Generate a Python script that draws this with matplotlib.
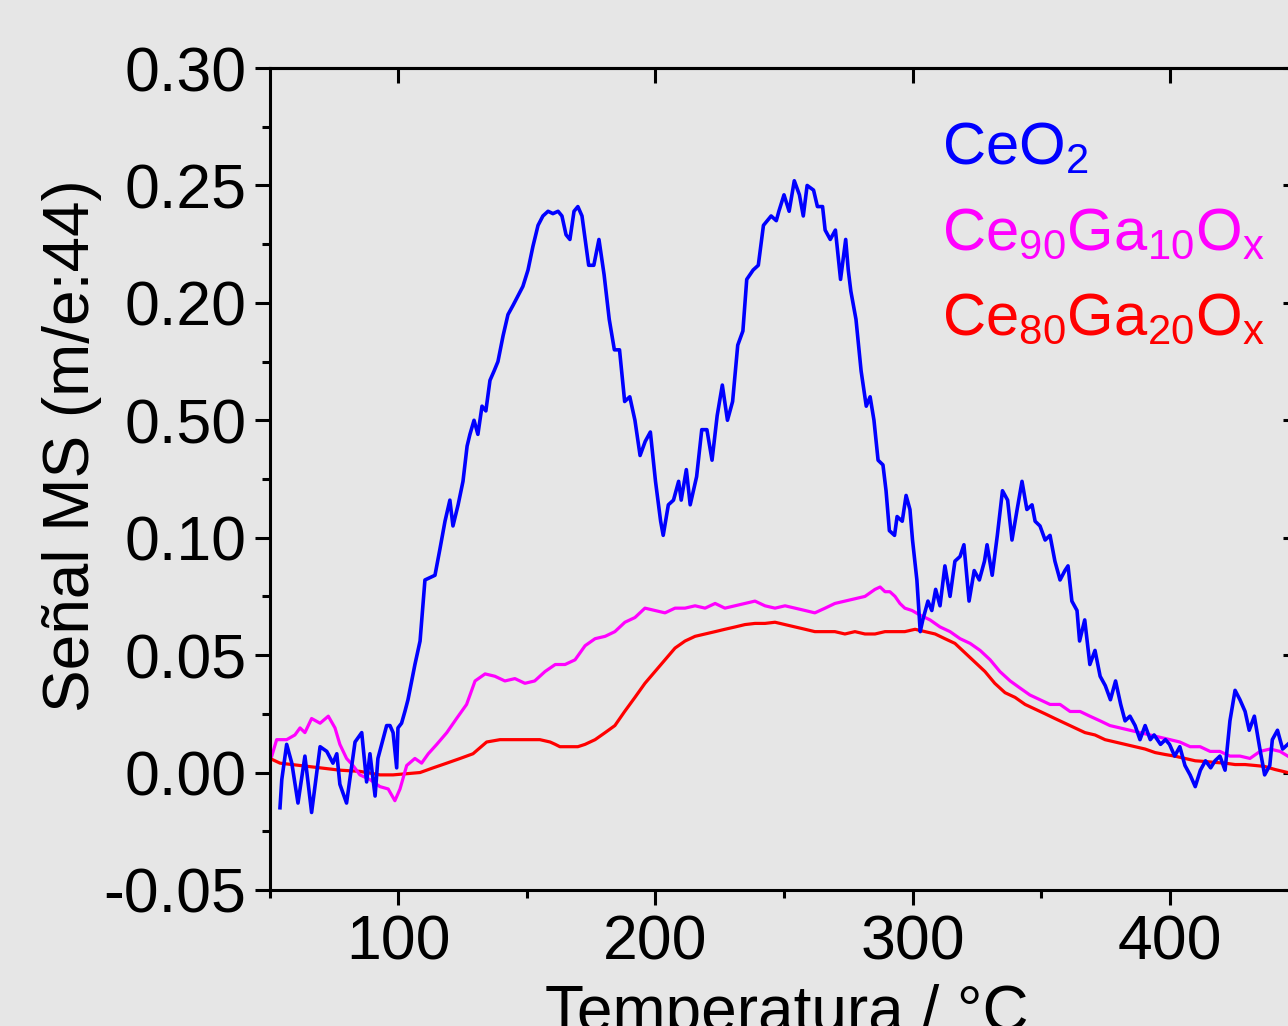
import matplotlib
matplotlib.use("Agg")
import matplotlib.pyplot as plt
from matplotlib.ticker import MultipleLocator, FixedLocator

plt.rcParams['font.family'] = ['Liberation Sans', 'DejaVu Sans']
plt.rcParams['mathtext.fontset'] = 'custom'
plt.rcParams['mathtext.rm'] = 'Liberation Sans'
plt.rcParams['mathtext.it'] = 'Liberation Sans:italic'

# CeO2 signal (m/e 44) vs temperature
ceo2_T = [53.9, 54.6, 56.5, 58.5, 60.9, 63.6, 66.2, 69.5, 72.1, 74.5, 76.0, 77.2, 79.8,
          83.1, 85.7, 87.6, 88.9, 90.9, 92.0, 95.4, 96.7, 97.9, 99.3, 99.8, 101.2, 102.5,
          103.7, 106.4, 108.4, 110.3, 112.3, 114.2, 116.1, 118.1, 120.0, 121.2, 123.2,
          125.1, 126.7, 127.8, 129.4, 130.9, 132.5, 134.0, 135.6, 137.2, 138.7, 140.7,
          142.6, 144.6, 146.5, 148.4, 150.4, 152.3, 154.3, 156.2, 158.2, 160.1, 162.1,
          163.6, 165.2, 166.7, 168.3, 169.8, 171.4, 174, 176, 178, 180, 182, 184, 186,
          188, 190, 192, 194, 196, 198, 200, 202, 203, 205, 207, 209, 210, 212, 213.5,
          216, 218, 220, 222, 224, 226, 228, 230, 232, 234, 235.5, 238, 240, 242, 245,
          247, 248, 250, 252, 254, 256, 257.5, 259, 261.5, 263, 265, 266, 268, 270, 272,
          274, 275, 276, 278, 280, 282, 283.5, 285, 286.6, 288.5, 289.7, 291, 293, 294,
          296, 297.5, 299, 300, 301.7, 303, 304, 306, 307.5, 309, 310.7, 312.6, 314.6,
          316.5, 318.5, 320, 322, 324, 326, 328, 329, 331, 333, 335, 337, 338.7, 340.7,
          342.6, 344.5, 346.5, 347.7, 349.6, 351.6, 353.5, 355.4, 357.4, 359.3, 360.5,
          362, 364, 365, 367, 369, 371, 373, 375, 377, 379, 381, 382.7, 384.6, 386.6,
          388.5, 390.5, 392.5, 394, 396.5, 398.4, 400, 402, 404, 406, 408, 410, 412, 414,
          416, 417.7, 419.6, 421.6, 423.5, 425.5, 427.4, 429.4, 431, 433, 435, 437, 439,
          440, 442, 444, 446]
ceo2_S = [-0.015, -0.003, 0.012, 0.004, -0.013, 0.007, -0.017, 0.011, 0.009, 0.004, 0.008,
          -0.005, -0.013, 0.013, 0.017, -0.004, 0.008, -0.010, 0.006, 0.020, 0.020, 0.017,
          0.002, 0.019, 0.021, 0.026, 0.031, 0.046, 0.056, 0.082, 0.083, 0.084, 0.095,
          0.107, 0.116, 0.105, 0.114, 0.124, 0.139, 0.144, 0.150, 0.144, 0.156, 0.154,
          0.167, 0.171, 0.175, 0.186, 0.195, 0.199, 0.203, 0.207, 0.214, 0.224, 0.233,
          0.237, 0.239, 0.238, 0.239, 0.237, 0.229, 0.227, 0.239, 0.241, 0.237, 0.216,
          0.216, 0.227, 0.212, 0.193, 0.180, 0.180, 0.158, 0.160, 0.150, 0.135, 0.141,
          0.145, 0.124, 0.107, 0.101, 0.114, 0.116, 0.124, 0.116, 0.129, 0.114, 0.126,
          0.146, 0.146, 0.133, 0.152, 0.165, 0.150, 0.158, 0.182, 0.188, 0.210, 0.214,
          0.216, 0.233, 0.237, 0.235, 0.239, 0.246, 0.239, 0.252, 0.246, 0.237, 0.250,
          0.248, 0.241, 0.241, 0.231, 0.227, 0.231, 0.210, 0.227, 0.214, 0.205, 0.193,
          0.171, 0.156, 0.160, 0.150, 0.133, 0.131, 0.120, 0.103, 0.101, 0.109, 0.107,
          0.118, 0.112, 0.099, 0.082, 0.060, 0.065, 0.073, 0.069, 0.078, 0.071, 0.088,
          0.075, 0.090, 0.092, 0.097, 0.073, 0.086, 0.082, 0.090, 0.097, 0.084, 0.101,
          0.120, 0.116, 0.099, 0.112, 0.124, 0.112, 0.114, 0.107, 0.105, 0.099, 0.101,
          0.090, 0.082, 0.086, 0.088, 0.073, 0.069, 0.056, 0.065, 0.046, 0.052, 0.041,
          0.037, 0.031, 0.039, 0.029, 0.022, 0.024, 0.020, 0.014, 0.020, 0.014, 0.016,
          0.012, 0.014, 0.012, 0.007, 0.011, 0.003, -0.001, -0.006, 0.001, 0.005, 0.002,
          0.005, 0.007, 0.001, 0.022, 0.035, 0.031, 0.026, 0.018, 0.024, 0.011, -0.001,
          0.003, 0.014, 0.018, 0.010, 0.012]

# Ce90Ga10Ox
ga10_T = [50.7, 52.6, 56.5, 59.7, 61.7, 63.6, 66.2, 69.5, 72.7, 75.3, 77.2, 79.8, 82.3,
          85.0, 88.9, 92.8, 96.0, 98.6, 100.6, 103.2, 106.4, 109.0, 111.6, 114.9, 118.8,
          122.6, 126.5, 129.8, 133.7, 137.5, 141.4, 145.3, 149.2, 153.0, 157.0, 161.0,
          164.8, 168.7, 172.6, 176.5, 180.4, 184.2, 188.1, 192.0, 195.9, 199.8, 203.7,
          207.6, 211.5, 215.4, 219.3, 223.2, 227.0, 230.9, 234.8, 238.7, 242.6, 246.5,
          250.4, 254.3, 258.2, 262.0, 266.0, 269.8, 273.7, 277.6, 281.5, 285.4, 287.4,
          289.3, 291.2, 293.2, 295.1, 297.0, 299.8, 303.0, 306.8, 310.7, 314.6, 318.5,
          322.4, 326.3, 330.2, 334.0, 338.0, 341.8, 345.7, 349.6, 353.5, 357.4, 361.3,
          365.2, 369.0, 373.0, 376.8, 380.7, 384.6, 388.5, 392.4, 396.3, 400.2, 404.0,
          408.0, 411.9, 415.8, 419.6, 423.5, 427.4, 431.3, 435.2, 439.1, 443.0, 446.0]
ga10_S = [0.007, 0.014, 0.014, 0.016, 0.019, 0.017, 0.023, 0.021, 0.024, 0.019, 0.012,
          0.006, 0.003, -0.001, -0.003, -0.006, -0.007, -0.012, -0.007, 0.003, 0.006,
          0.004, 0.008, 0.012, 0.017, 0.023, 0.029, 0.039, 0.042, 0.041, 0.039, 0.040,
          0.038, 0.039, 0.043, 0.046, 0.046, 0.048, 0.054, 0.057, 0.058, 0.060, 0.064,
          0.066, 0.070, 0.069, 0.068, 0.070, 0.070, 0.071, 0.070, 0.072, 0.070, 0.071,
          0.072, 0.073, 0.071, 0.070, 0.071, 0.070, 0.069, 0.068, 0.070, 0.072, 0.073,
          0.074, 0.075, 0.078, 0.079, 0.077, 0.077, 0.075, 0.072, 0.070, 0.069, 0.067,
          0.065, 0.062, 0.060, 0.057, 0.055, 0.052, 0.048, 0.043, 0.039, 0.036, 0.033,
          0.031, 0.029, 0.029, 0.026, 0.026, 0.024, 0.022, 0.020, 0.019, 0.018, 0.017,
          0.016, 0.015, 0.014, 0.013, 0.011, 0.011, 0.009, 0.009, 0.007, 0.007, 0.006,
          0.009, 0.010, 0.009, 0.007]

# Ce80Ga20Ox
ga20_T = [50.0, 53.9, 61.7, 69.5, 77.2, 85.0, 92.8, 97.9, 103.2, 108.4, 113.5, 118.8,
          124.0, 129.0, 134.3, 139.5, 143.4, 147.3, 151.2, 155.0, 159.0, 161.0, 162.8,
          166.7, 169.8, 172.6, 176.5, 180.4, 184.2, 188.0, 192.0, 195.9, 199.8, 203.7,
          207.6, 211.5, 215.4, 219.3, 223.2, 227.0, 231.0, 234.8, 238.7, 242.6, 246.5,
          250.4, 254.3, 258.2, 262.0, 266.0, 269.8, 273.7, 277.6, 281.5, 285.4, 289.3,
          293.2, 297.0, 301.0, 304.9, 308.8, 312.6, 316.5, 320.4, 324.3, 328.2, 332.0,
          336.0, 339.9, 343.8, 347.7, 351.6, 355.4, 359.3, 363.2, 367.1, 371.0, 374.9,
          378.8, 382.7, 386.6, 390.5, 394.4, 398.2, 402.0, 406.0, 410.0, 413.8, 417.7,
          421.6, 425.5, 429.4, 433.3, 437.0, 441.0, 446.0]
ga20_S = [0.006, 0.004, 0.003, 0.002, 0.001, 0.0005, -0.001, -0.001, -0.0005, 0.000,
          0.002, 0.004, 0.006, 0.008, 0.013, 0.014, 0.014, 0.014, 0.014, 0.014, 0.013,
          0.012, 0.011, 0.011, 0.011, 0.012, 0.014, 0.017, 0.020, 0.026, 0.032, 0.038,
          0.043, 0.048, 0.053, 0.056, 0.058, 0.059, 0.060, 0.061, 0.062, 0.063, 0.0635,
          0.0635, 0.064, 0.063, 0.062, 0.061, 0.060, 0.060, 0.060, 0.059, 0.060, 0.059,
          0.059, 0.060, 0.060, 0.060, 0.061, 0.060, 0.059, 0.057, 0.055, 0.051, 0.047,
          0.043, 0.038, 0.034, 0.032, 0.029, 0.027, 0.025, 0.023, 0.021, 0.019, 0.017,
          0.016, 0.014, 0.013, 0.012, 0.011, 0.010, 0.0085, 0.0077, 0.007, 0.006, 0.005,
          0.0047, 0.0043, 0.004, 0.0034, 0.0034, 0.003, 0.0026, 0.0013, 0.000]

ytick_vals = [-0.05, 0.00, 0.05, 0.10, 0.15, 0.20, 0.25, 0.30]
ytick_text = ['-0.05', '0.00', '0.05', '0.10', '0.50', '0.20', '0.25', '0.30']
xtick_vals = [100, 200, 300, 400]

series_names = ['CeO$_2$',
                'Ce$_{\\mathrm{90}}$Ga$_{\\mathrm{10}}$O$_{\\mathrm{x}}$',
                'Ce$_{\\mathrm{80}}$Ga$_{\\mathrm{20}}$O$_{\\mathrm{x}}$']
series_colors = ['#0000ff', '#ff00ff', '#ff0000']

bg = '#e6e6e6'
fig = plt.figure(figsize=(12.88, 10.26), dpi=100, facecolor=bg)
ax = fig.add_axes([0.2096, 0.1326, 0.7982, 0.8011], facecolor=bg)

ax.plot(ga20_T, ga20_S, color=series_colors[2], lw=2.3)
ax.plot(ga10_T, ga10_S, color=series_colors[1], lw=2.3)
ax.plot(ceo2_T, ceo2_S, color=series_colors[0], lw=2.6)

ax.set_xlim(50, 450)
ax.set_ylim(-0.05, 0.30)

for s in ax.spines.values():
    s.set_linewidth(2.2)
    s.set_color('black')

ax.xaxis.set_major_locator(FixedLocator(xtick_vals))
ax.xaxis.set_minor_locator(FixedLocator([50, 150, 250, 350, 450]))
ax.yaxis.set_major_locator(FixedLocator(ytick_vals))
ax.yaxis.set_minor_locator(MultipleLocator(0.025))
ax.set_yticklabels(ytick_text)

ax.tick_params(which='major', direction='out', length=11, width=2.2,
               labelsize=45, pad=6, top=False, right=False)
ax.tick_params(which='minor', direction='out', length=5.5, width=2.2,
               top=False, right=False)

# inward ticks on top and right
sec_x = ax.secondary_xaxis('top')
sec_x.xaxis.set_major_locator(FixedLocator(xtick_vals))
sec_x.tick_params(direction='in', length=11, width=2.2, labeltop=False)
sec_x.spines['top'].set_linewidth(2.2)
sec_y = ax.secondary_yaxis('right')
sec_y.yaxis.set_major_locator(FixedLocator(ytick_vals))
sec_y.tick_params(direction='in', length=11, width=2.2, labelright=False)
sec_y.spines['right'].set_linewidth(2.2)

ax.set_ylabel('Señal MS (m/e:44)', fontsize=46)
ax.yaxis.set_label_coords(-0.163, 0.541)
ax.set_xlabel('Temperatura / °C', fontsize=46)
ax.xaxis.set_label_coords(0.503, -0.114)

legend_y = [0.882, 0.779, 0.675]
for name, col, yy in zip(series_names, series_colors, legend_y):
    ax.text(0.654, yy, name, color=col, fontsize=43, transform=ax.transAxes,
            ha='left', va='baseline')

fig.savefig('out.png', dpi=100, facecolor=bg)
